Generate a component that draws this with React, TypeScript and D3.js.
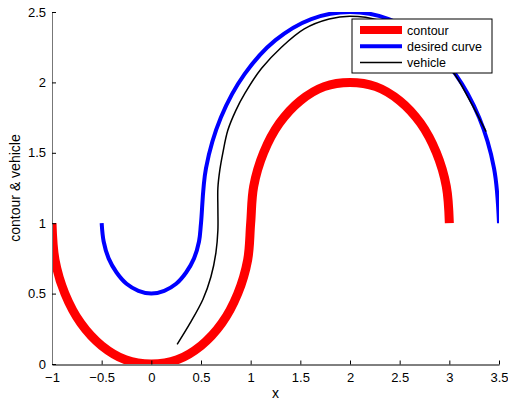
import React, { useRef, useEffect } from 'react'
import * as d3 from 'd3'

// contour: two half circles
const contourX = [-1, -0.97, -0.87, -0.71, -0.5, -0.26, 0, 0.26, 0.5, 0.71, 0.87, 0.97, 1, 1.03, 1.13, 1.29, 1.5, 1.74, 2, 2.26, 2.5, 2.71, 2.87, 2.97, 3]
const contourY = [1, 0.74, 0.5, 0.29, 0.13, 0.03, 0, 0.03, 0.13, 0.29, 0.5, 0.74, 1, 1.26, 1.5, 1.71, 1.87, 1.97, 2, 1.97, 1.87, 1.71, 1.5, 1.26, 1]

const desiredX = [-0.5, -0.48, -0.43, -0.35, -0.25, -0.13, 0, 0.13, 0.25, 0.35, 0.43, 0.48, 0.5, 0.55, 0.7, 0.94, 1.25, 1.61, 2, 2.39, 2.75, 3.06, 3.3, 3.45, 3.5]
const desiredY = [1, 0.87, 0.75, 0.65, 0.57, 0.52, 0.5, 0.52, 0.57, 0.65, 0.75, 0.87, 1, 1.39, 1.75, 2.06, 2.3, 2.45, 2.5, 2.45, 2.3, 2.06, 1.75, 1.39, 1]

const vehicleX = [0.26, 0.39, 0.52, 0.6, 0.65, 0.67, 0.67, 0.67, 0.69, 0.72, 0.77, 0.85, 0.94, 1.11, 1.31, 1.54, 1.79, 2.0, 2.3, 2.6, 2.85, 3.04, 3.2, 3.37]
const vehicleY = [0.14, 0.29, 0.46, 0.62, 0.79, 0.95, 1.1, 1.25, 1.38, 1.5, 1.66, 1.8, 1.92, 2.1, 2.25, 2.38, 2.45, 2.47, 2.44, 2.34, 2.2, 2.07, 1.88, 1.65]

const xTicks = [-1, -0.5, 0, 0.5, 1, 1.5, 2, 2.5, 3, 3.5]
const yTicks = [0, 0.5, 1, 1.5, 2, 2.5]

const legendNames = ['contour', 'desired curve', 'vehicle']
const colors = ['#ff0000', '#0000ff', '#000000']
const widths = [9, 4, 1.5]

const App = () => {
	const svgRef = useRef<SVGSVGElement | null>(null)

	const svgWidth = 508,
		svgHeight = 402
	const left = 52,
		right = 499,
		top = 12,
		bottom = 364

	useEffect(() => {
		const svg = d3.select(svgRef.current)
		svg.selectAll('*').remove()

		const x = d3.scaleLinear().domain([-1, 3.5]).range([left, right])
		const y = d3.scaleLinear().domain([0, 2.5]).range([bottom, top])
		const fmt = (d: any) => String(d).replace('-', '\u2212')

		svg
			.append('clipPath')
			.attr('id', 'plotclip')
			.append('rect')
			.attr('x', left)
			.attr('y', top)
			.attr('width', right - left)
			.attr('height', bottom - top)

		const series = [
			contourX.map((v, i) => [v, contourY[i]]),
			desiredX.map((v, i) => [v, desiredY[i]]),
			vehicleX.map((v, i) => [v, vehicleY[i]]),
		]

		const line = d3
			.line<number[]>()
			.x((d) => x(d[0]))
			.y((d) => y(d[1]))
			.curve(d3.curveCatmullRom.alpha(0.5))

		const g = svg.append('g').attr('clip-path', 'url(#plotclip)')
		series.forEach((s, i) => {
			g.append('path')
				.attr('d', line(s))
				.attr('fill', 'none')
				.attr('stroke', colors[i])
				.attr('stroke-width', widths[i])
		})

		// axes (ticks point inward, matlab style)
		const xAxis = svg
			.append('g')
			.attr('transform', `translate(0,${bottom + 0.5})`)
			.call(d3.axisBottom(x).tickValues(xTicks).tickFormat(fmt).tickSizeInner(-4).tickSizeOuter(0).tickPadding(8))
		const yAxis = svg
			.append('g')
			.attr('transform', `translate(${left},0)`)
			.call(d3.axisLeft(y).tickValues(yTicks).tickFormat(fmt).tickSizeInner(-4).tickSizeOuter(0).tickPadding(6))
		;[xAxis, yAxis].forEach((a) => {
			a.selectAll('text').attr('font-size', 13).attr('font-family', 'Liberation Sans, Arial, sans-serif').attr('fill', '#000')
			a.selectAll('line,path').attr('stroke', '#000')
		})
		yAxis.select('path').attr('stroke', '#777')

		svg
			.append('text')
			.attr('x', (left + right) / 2)
			.attr('y', 398)
			.attr('text-anchor', 'middle')
			.attr('font-size', 14)
			.attr('font-family', 'Liberation Sans, Arial, sans-serif')
			.text('x')

		svg
			.append('text')
			.attr('transform', `translate(20,${(top + bottom) / 2}) rotate(-90)`)
			.attr('text-anchor', 'middle')
			.attr('font-size', 14)
			.attr('font-family', 'Liberation Sans, Arial, sans-serif')
			.text('contour & vehicle')

		// legend
		const lg = svg.append('g').attr('transform', 'translate(352,19)')
		lg.append('rect').attr('width', 140).attr('height', 54).attr('fill', '#fff').attr('stroke', '#000')
		legendNames.forEach((name, i) => {
			const ly = 11 + i * 16.3
			lg.append('line')
				.attr('x1', 8)
				.attr('x2', 50)
				.attr('y1', ly)
				.attr('y2', ly)
				.attr('stroke', colors[i])
				.attr('stroke-width', widths[i] === 9 ? 8 : widths[i])
			lg.append('text')
				.attr('x', 55)
				.attr('y', ly + 4.5)
				.attr('font-size', 12.5)
				.attr('font-family', 'Liberation Sans, Arial, sans-serif')
				.text(name)
		})
	}, [])

	return (
		<svg
			ref={svgRef}
			width={svgWidth}
			height={svgHeight}
			style={{ position: 'absolute', left: 0, top: 0, background: '#fff' }}
		></svg>
	)
}

export default App
